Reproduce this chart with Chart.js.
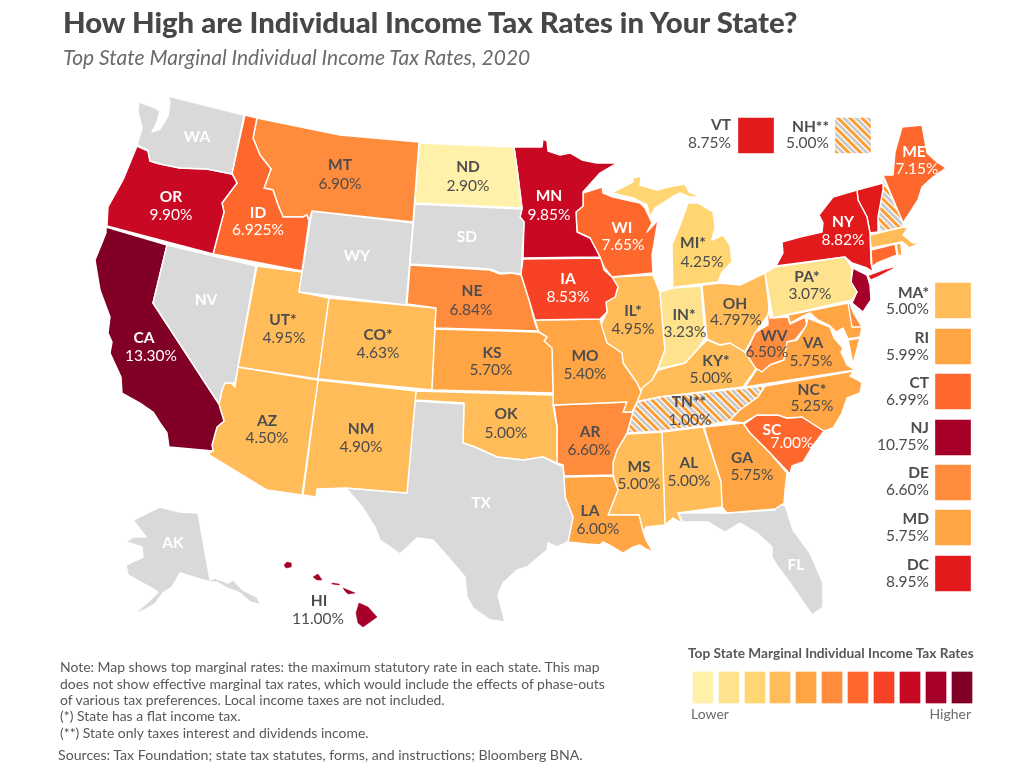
<!DOCTYPE html>
<html>
<head>
<meta charset="utf-8">
<title>How High are Individual Income Tax Rates in Your State?</title>
<script src="https://cdn.jsdelivr.net/npm/chart.js@4"></script>
<style>
    html, body { margin: 0; padding: 0; background: #fff; }
    #page { position: relative; width: 1019px; height: 768px; overflow: hidden; font-family: Lato, sans-serif; }
    canvas { display: block; }
    .t { position: absolute; white-space: nowrap; line-height: 1; }
    #title { left: 63px; top: 7px; font-size: 29.3px; font-weight: 900; color: #474747; }
    #subtitle { left: 63px; top: 46px; font-size: 21px; font-style: italic; color: #6b6b6b; }
    .note { left: 60px; font-size: 13.95px; color: #58585a; }
    #legendTitle { left: 688px; top: 646px; font-size: 13.7px; font-weight: 700; color: #58585a; }
    .end { font-size: 14px; top: 707px; color: #6b6b6b; }
</style>
</head>
<body>
<div id="page">
    <canvas id="mapChart" width="1019" height="768"></canvas>
    <div class="t" id="title">How High are Individual Income Tax Rates in Your State?</div>
    <div class="t" id="subtitle">Top State Marginal Individual Income Tax Rates, 2020</div>
    <div class="t note" style="top:660px">Note: Map shows top marginal rates: the maximum statutory rate in each state. This map</div>
    <div class="t note" style="top:677px">does not show effective marginal tax rates, which would include the effects of phase-outs</div>
    <div class="t note" style="top:693px">of various tax preferences. Local income taxes are not included.</div>
    <div class="t note" style="top:709px">(*) State has a flat income tax.</div>
    <div class="t note" style="top:726px">(**) State only taxes interest and dividends income.</div>
    <div class="t note" style="top:748px;left:58px;font-size:14.15px">Sources: Tax Foundation; state tax statutes, forms, and instructions; Bloomberg BNA.</div>
    <div class="t" id="legendTitle">Top State Marginal Individual Income Tax Rates</div>
    <div class="t end" style="left:691px">Lower</div>
    <div class="t end" style="right:48px">Higher</div>
</div>

<script>
// Colour bands, lowest to highest, as in the ramp at the bottom right
const bandColors = ['#fff1a9', '#fee28e', '#ffd671', '#ffbc58', '#ffa544', '#ff8c3c', '#ff682d', '#f74225', '#c90824', '#a60028', '#800026'];
const VT_RED = '#e31a1c';
const NO_TAX = '#d9d9d9';

// Labels: code, top rate, fill
const stateCodes = ['WA', 'OR', 'ID', 'MT', 'ND', 'MN', 'WI', 'IA', 'SD', 'WY', 'NV', 'NE', 'KS', 'UT*', 'CO*', 'CA', 'AZ', 'NM', 'OK', 'MO', 'IL*', 'IN*', 'MI*', 'OH', 'PA*', 'NY', 'ME', 'WV', 'VA', 'KY*', 'TN**', 'NC*', 'SC', 'GA', 'AL', 'MS', 'AR', 'LA', 'TX', 'FL', 'AK', 'HI'];
const stateRates = ['', '9.90%', '6.925%', '6.90%', '2.90%', '9.85%', '7.65%', '8.53%', '', '', '', '6.84%', '5.70%', '4.95%', '4.63%', '13.30%', '4.50%', '4.90%', '5.00%', '5.40%', '4.95%', '3.23%', '4.25%', '4.797%', '3.07%', '8.82%', '7.15%', '6.50%', '5.75%', '5.00%', '1.00%', '5.25%', '7.00%', '5.75%', '5.00%', '5.00%', '6.60%', '6.00%', '', '', '', '11.00%'];
const lightLabels = ['WA', 'OR', 'ID', 'MN', 'WI', 'IA', 'SD', 'WY', 'NV', 'CA', 'NY', 'ME', 'SC', 'TX', 'FL', 'AK'];
const codeSpots = [[197,137],[171,197],[258,213],[340,165],[468,167],[549,196],[622,228],[568,279],[467,237],[357,256],[206,300],[472,291],[492,353],[283,320],[378,335],[144,338],[267,421],[361,429],[506,414],[585,356],[633,311],[684,315],[693,243],[735,304],[807,277],[843,222],[914,152],[774,336],[813,343],[716,361],[689,402],[812,390],[772,430],[742,458],[689,463],[639,467],[590,432],[590,511],[481,503],[796,565],[173,543],[319,601]];
const rateSpots = [[0,0],[171,215],[258,230],[340,184],[468,186],[549,215],[623,245],[568,297],[0,0],[0,0],[0,0],[471,310],[491,370],[284,338],[378,353],[151,356],[267,438],[361,447],[506,433],[585,374],[633,329],[685,332],[702,262],[736,320],[810,294],[843,240],[917,169],[767,352],[811,361],[711,378],[690,420],[812,406],[792,443],[752,475],[689,481],[639,484],[589,450],[598,529],[0,0],[0,0],[0,0],[318,619]];

// Small states pulled out to the side
const sideCodes = ['VT', 'NH**', 'MA*', 'RI', 'CT', 'NJ', 'DE', 'MD', 'DC'];
const sideRates = ['8.75%', '5.00%', '5.00%', '5.99%', '6.99%', '10.75%', '6.60%', '5.75%', '8.95%'];
const sideBands = [VT_RED, 'hatch', bandColors[3], bandColors[4], bandColors[6], bandColors[9], bandColors[5], bandColors[4], VT_RED];
const sideBoxX = [756, 853, 953, 953, 953, 953, 953, 953, 953];
const sideBoxTop = [118, 118, 283, 329, 374, 420, 465, 510, 556];
const sideTextX = [731, 829, 929, 929, 929, 929, 929, 929, 929];
const sideCodeY = [125, 127, 293, 338, 383, 428, 473, 519, 565];
const sideRateY = [143, 143, 309, 355, 400, 445, 490, 536, 582];

// Ramp boxes
const rampX = [703, 729, 755, 780, 806, 832, 858, 884, 910, 936, 962];

// State outlines, x,y pairs on the map grid
const WA = [168,96, 244,115, 232,174, 207,169, 180,168, 160,164, 150,161, 148,150, 137,145, 142,128, 138,112, 139,102, 153,107, 160,111, 157,122, 152,132, 160,129, 168,116, 170,103];
const OR = [137,146, 148,151, 150,161, 160,164, 180,168, 207,169, 232,174, 237,183, 222,203, 224,212, 213,254, 107,226, 108,207, 123,180];
const ID = [245,115, 257,118, 253,138, 260,155, 271,169, 264,188, 273,190, 278,205, 283,217, 303,217, 307,215, 309,221, 302,271, 213,254, 224,212, 222,203, 237,183, 232,173];
const MT = [257,118, 340,135, 419,142, 413,222, 312,211, 309,221, 307,215, 303,217, 283,217, 278,205, 273,190, 264,188, 271,169, 260,155, 253,138];
const WY = [312,211, 413,223, 406,305, 299,292];
const ND = [419,143, 514,147, 517,168, 522,208, 415,203];
const SD = [415,204, 522,209, 520,217, 524,222, 522,258, 521,274, 512,273, 500,273, 490,269, 410,264];
const MN = [514,147, 542,147, 543,139, 547,141, 548,151, 560,155, 570,153, 582,160, 597,163, 617,163, 600,173, 583,192, 583,206, 576,212, 577,232, 590,238, 600,257, 523,258, 524,222, 520,217, 522,208, 517,168];
const WI = [583,193, 602,187, 603,193, 613,197, 640,203, 645,208, 652,223, 647,232, 658,220, 652,255, 653,273, 612,277, 604,267, 600,257, 590,238, 577,232, 576,212, 583,206];
const IA = [523,259, 601,258, 604,270, 612,277, 618,287, 615,297, 606,302, 607,312, 600,319, 535,320, 530,303, 525,287, 521,274];
const NE = [410,265, 490,270, 500,274, 512,273, 521,275, 525,287, 530,303, 534,320, 538,331, 435,328, 436,308, 407,304];
const KS = [435,329, 538,332, 547,337, 544,341, 552,348, 553,393, 432,390];
const CO = [329,298, 436,308, 432,390, 318,379];
const UT = [257,266, 302,272, 299,292, 329,298, 318,379, 238,367];
const NV = [167,245, 256,266, 238,367, 235,383, 225,383, 222,390, 219,404, 153,303];
const CA = [106,227, 167,245, 153,303, 219,404, 220,408, 224,421, 217,427, 212,445, 213,451, 169,447, 167,433, 160,423, 153,412, 140,403, 122,393, 121,377, 110,353, 112,342, 108,333, 110,317, 100,290, 95,260, 106,233];
const AZ = [238,367, 318,380, 302,495, 267,490, 208,454, 213,451, 212,445, 217,427, 224,421, 219,404, 222,390, 224,383, 231,383, 235,387];
const NM = [318,380, 416,391, 407,493, 346,488, 317,489, 316,497, 303,495];
const TX = [415,401, 464,404, 463,443, 475,447, 497,457, 523,460, 543,457, 557,464, 563,466, 564,477, 565,497, 573,517, 568,542, 557,547, 548,543, 547,550, 527,567, 517,570, 503,583, 498,595, 500,603, 505,622, 490,620, 473,608, 467,597, 465,577, 448,557, 433,540, 417,538, 400,554, 380,540, 375,527, 363,508, 346,488, 407,493];
const OK = [416,391, 553,395, 553,405, 557,427, 557,463, 543,457, 523,460, 497,457, 475,447, 463,443, 464,403, 415,400];
const MO = [535,320, 600,319, 602,327, 607,343, 622,353, 623,363, 637,383, 641,392, 637,402, 632,412, 623,412, 627,402, 553,405, 553,393, 552,350, 544,342, 547,337, 538,331];
const AR = [554,405, 627,402, 624,412, 633,412, 627,433, 617,450, 613,463, 613,475, 564,476, 563,465, 557,463, 557,427];
const LA = [564,477, 613,476, 618,490, 608,515, 639,515, 643,531, 646,540, 653,552, 646,549, 640,545, 633,547, 623,553, 613,547, 603,542, 600,545, 587,544, 568,542, 573,517, 565,497];
const MS = [627,434, 662,432, 665,525, 646,527, 643,532, 639,515, 608,515, 618,490, 613,475, 613,463, 617,450];
const AL = [662,432, 703,427, 721,482, 722,507, 678,513, 682,523, 673,518, 665,525];
const GA = [704,427, 743,423, 750,433, 770,453, 787,473, 785,490, 784,503, 775,509, 727,513, 722,507, 721,482];
const SC = [743,425, 757,415, 778,415, 787,418, 802,417, 824,431, 812,447, 803,462, 792,466, 790,474, 770,453, 750,433];
const NC = [765,386, 854,371, 850,376, 858,380, 862,383, 860,393, 847,398, 842,413, 833,428, 824,431, 802,417, 787,418, 778,415, 757,415, 743,423, 729,421, 740,410, 758,397];
const TN = [637,402, 660,397, 764,386, 758,397, 740,410, 729,421, 703,426, 662,431, 627,433, 633,412];
const VA = [745,387, 757,369, 762,372, 770,365, 784,360, 787,342, 797,340, 806,326, 808,318, 820,323, 830,327, 834,338, 843,348, 841,352, 847,365, 855,370];
const VA_SHORE = [848,340, 860,338, 853,364];
const MD = [773,318, 848,303, 852,327, 862,327, 860,337, 848,339, 843,328, 836,332, 830,326, 818,320, 810,313, 803,316, 790,323, 788,315];
const DE = [847,304, 850,303, 853,312, 862,327, 852,328];
const BAY = [837,312, 845,311, 843,328, 851,333, 849,339, 845,340, 851,352, 848,362, 838,360, 833,353, 843,352, 835,338];
const WV = [767,302, 770,318, 788,317, 790,324, 805,317, 807,325, 795,340, 787,342, 784,360, 770,365, 762,372, 756,369, 745,355, 755,333, 768,325];
const OH = [702,285, 720,283, 740,285, 765,273, 769,307, 768,315, 755,333, 745,352, 730,343, 720,345, 707,339];
const IN = [660,292, 673,288, 701,286, 705,338, 697,350, 685,363, 658,369, 665,350];
const IL = [612,277, 653,275, 660,293, 665,350, 658,368, 652,380, 642,388, 641,391, 637,383, 623,363, 622,353, 607,343, 600,327, 607,312, 606,302, 615,297, 618,287];
const KY = [658,370, 685,363, 697,350, 707,340, 720,345, 730,343, 745,352, 756,369, 743,387, 660,397, 635,402, 640,388, 652,380];
const MI_LOWER = [673,293, 672,245, 682,220, 688,203, 698,203, 713,212, 715,227, 712,240, 723,235, 730,245, 732,262, 722,272, 718,282, 675,287];
const MI_UPPER = [612,193, 633,182, 633,178, 641,176, 640,185, 657,190, 668,187, 685,184, 689,192, 702,197, 690,197, 680,193, 672,197, 655,208, 650,217, 647,205, 633,198];
const PA = [765,273, 775,267, 845,257, 852,268, 851,282, 857,292, 852,300, 773,318];
const NY = [776,266, 783,253, 782,242, 800,237, 822,232, 823,223, 819,215, 833,197, 857,190, 858,200, 867,217, 870,233, 871,263, 873,272, 867,268, 852,263, 845,257];
const LONG_ISLAND = [869,276, 885,270, 893,268, 878,276, 871,279];
const VT = [857,190, 883,183, 883,190, 878,217, 878,232, 870,233, 867,217, 858,200];
const NH = [882,175, 903,223, 903,227, 880,232, 878,217, 883,190];
const ME = [883,175, 893,175, 895,152, 902,127, 922,125, 927,153, 937,162, 946,168, 933,177, 922,187, 918,200, 907,217, 903,223];
const MA = [870,235, 903,227, 908,228, 903,235, 913,243, 922,242, 910,248, 902,242, 871,248];
const CT = [871,250, 895,244, 897,255, 877,263, 872,267];
const RI = [896,244, 901,243, 902,255, 898,256];
const NJ = [853,268, 867,275, 870,285, 871,300, 863,312, 852,303, 857,292, 851,282];
const FL = [678,513, 727,513, 775,510, 777,505, 785,505, 793,530, 810,553, 823,583, 823,607, 812,615, 803,602, 790,583, 778,567, 772,557, 772,547, 757,533, 740,523, 725,532, 708,522, 683,522];
const AK = [133,520, 160,507, 180,512, 198,513, 210,580, 215,578, 228,583, 233,580, 243,590, 257,597, 261,605, 250,602, 240,593, 227,588, 217,582, 210,582, 193,577, 180,573, 172,587, 163,593, 155,604, 140,612, 122,620, 133,615, 148,602, 158,592, 150,587, 128,575, 126,565, 143,557, 142,547, 126,542, 133,537, 146,537];
const KAUAI = [284,565, 287,562, 291,563, 291,567, 286,568];
const OAHU = [313,577, 318,574, 322,580, 317,580];
const MOLOKAI = [332,583, 339,584, 339,585, 332,584];
const MAUI = [343,588, 348,590, 355,593, 348,594, 345,591];
const BIG_ISLAND = [359,603, 368,607, 377,617, 363,627, 358,623, 356,613];

function makeHatch() {
    const size = 12;
    const tile = document.createElement('canvas');
    tile.width = size;
    tile.height = size;
    const c = tile.getContext('2d');
    c.fillStyle = '#fff';
    c.fillRect(0, 0, size, size);
    c.lineWidth = 3;
    [[-size, '#ff9a2e'], [0, '#ff9a2e'], [size, '#ff9a2e'], [-size / 2, '#c9c9c9'], [size / 2, '#c9c9c9']].forEach(function(s) {
        c.strokeStyle = s[1];
        c.beginPath();
        c.moveTo(-2, s[0] - 2);
        c.lineTo(size + 2, s[0] + size + 2);
        c.stroke();
    });
    return c.createPattern(tile, 'repeat');
}

const hatch = makeHatch();

// Draw order matters where a neighbour overlaps (bay over MD/VA, WV over MD)
const shapes = [
    [WA, NO_TAX], [OR, bandColors[8]], [ID, bandColors[6]], [MT, bandColors[5]], [WY, NO_TAX], [ND, bandColors[0]], [SD, NO_TAX],
    [MN, bandColors[8]], [WI, bandColors[6]], [IA, bandColors[7]], [NE, bandColors[5]], [KS, bandColors[4]], [CO, bandColors[3]],
    [UT, bandColors[3]], [NV, NO_TAX], [CA, bandColors[10]], [AZ, bandColors[3]], [NM, bandColors[3]], [TX, NO_TAX], [OK, bandColors[3]],
    [MO, bandColors[4]], [AR, bandColors[5]], [LA, bandColors[4]], [MS, bandColors[3]], [AL, bandColors[3]], [GA, bandColors[4]],
    [NC, bandColors[4]], [TN, hatch], [SC, bandColors[6]], [VA, bandColors[4]], [VA_SHORE, bandColors[4]], [MD, bandColors[4]], [DE, bandColors[5]],
    [BAY, '#fff'], [OH, bandColors[3]], [IN, bandColors[1]], [IL, bandColors[3]], [KY, bandColors[3]], [WV, bandColors[5]],
    [MI_LOWER, bandColors[2]], [MI_UPPER, bandColors[2]], [PA, bandColors[1]], [NY, VT_RED], [LONG_ISLAND, VT_RED], [VT, VT_RED], [NH, hatch],
    [ME, bandColors[6]], [MA, bandColors[3]], [CT, bandColors[6]], [RI, bandColors[4]], [NJ, bandColors[9]], [FL, NO_TAX], [AK, NO_TAX],
    [KAUAI, bandColors[9]], [OAHU, bandColors[9]], [MOLOKAI, bandColors[9]], [MAUI, bandColors[9]], [BIG_ISLAND, bandColors[9]]
];

// Too small to survive a white outline
const tinyShapes = [LONG_ISLAND, KAUAI, OAHU, MOLOKAI, MAUI, BIG_ISLAND];

const datasets = shapes.map(function(shape) {
    const flat = shape[0];
    const points = [];
    for (let i = 0; i < flat.length; i += 2) {
        points.push({ x: flat[i], y: flat[i + 1] });
    }
    points.push({ x: flat[0], y: flat[1] });
    return {
        type: 'line',
        data: points,
        fill: 'shape',
        backgroundColor: shape[1],
        borderColor: tinyShapes.indexOf(flat) >= 0 ? shape[1] : '#fff',
        borderWidth: tinyShapes.indexOf(flat) >= 0 ? 0.5 : 1.4,
        borderJoinStyle: 'round',
        pointRadius: 0,
        tension: 0,
        clip: false
    };
});

datasets.push({
    type: 'bar',
    data: sideBoxX.map(function(x, i) { return { x: x, y: [sideBoxTop[i], sideBoxTop[i] + 35] }; }),
    backgroundColor: sideBands.map(function(b) { return b === 'hatch' ? hatch : b; }),
    barThickness: 35,
    borderWidth: 0
});

datasets.push({
    type: 'bar',
    data: rampX.map(function(x) { return { x: x, y: [672, 703] }; }),
    backgroundColor: bandColors,
    barThickness: 20,
    borderWidth: 0
});

const DARK_TEXT = '#4d4d4f';

function drawPair(ctx, chart, code, rate, codeX, codeY, rateX, rateY, color, align) {
    const sx = chart.scales.x;
    const sy = chart.scales.y;
    ctx.textAlign = align;
    ctx.textBaseline = 'middle';
    ctx.fillStyle = color;
    ctx.font = '700 15.5px Lato';
    ctx.fillText(code, sx.getPixelForValue(codeX), sy.getPixelForValue(codeY));
    if (rate) {
        ctx.font = '400 15.5px Lato';
        ctx.fillText(rate, sx.getPixelForValue(rateX), sy.getPixelForValue(rateY));
    }
}

const labelPlugin = {
    id: 'stateLabels',
    afterDatasetsDraw: function(chart) {
        const ctx = chart.ctx;
        ctx.save();
        stateCodes.forEach(function(code, i) {
            const color = lightLabels.indexOf(code) >= 0 ? '#fff' : DARK_TEXT;
            drawPair(ctx, chart, code, stateRates[i], codeSpots[i][0], codeSpots[i][1], rateSpots[i][0], rateSpots[i][1], color, 'center');
        });
        sideCodes.forEach(function(code, i) {
            drawPair(ctx, chart, code, sideRates[i], sideTextX[i], sideCodeY[i], sideTextX[i], sideRateY[i], DARK_TEXT, 'right');
        });
        ctx.restore();
    }
};

new Chart(document.getElementById('mapChart'), {
    type: 'line',
    data: { datasets: datasets },
    options: {
        responsive: false,
        animation: false,
        devicePixelRatio: 1,
        layout: { padding: 0 },
        datasets: { bar: { grouped: false } },
        plugins: { legend: { display: false }, tooltip: { enabled: false } },
        scales: {
            x: { type: 'linear', min: 0, max: 1019, display: false, offset: false },
            y: { type: 'linear', min: 0, max: 768, reverse: true, display: false, beginAtZero: false }
        }
    },
    plugins: [labelPlugin]
});
</script>
</body>
</html>
